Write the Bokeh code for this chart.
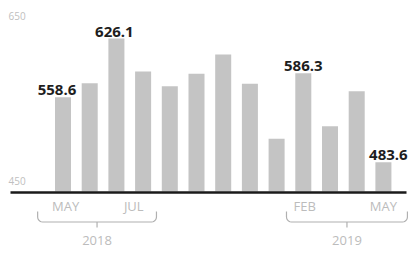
import numpy as np
from bokeh.plotting import figure
from bokeh.models import Range1d, ColumnDataSource
from bokeh.core.properties import value
from bokeh.embed import file_html
from bokeh.resources import INLINE

# ---- data ----
months = ["May18", "Jun18", "Jul18", "Aug18", "Sep18", "Oct18", "Nov18",
          "Dec18", "Jan19", "Feb19", "Mar19", "Apr19", "May19"]
values = [558.6, 574.8, 626.1, 588.2, 571.3, 585.6, 607.8,
          574.1, 510.7, 586.3, 525.2, 565.6, 483.6]
labelled = [0, 2, 9, 12]            # bars with value labels
tick_idx = [0.1, 2.65, 9.05, 12]     # month tick label positions
tick_labels = ["MAY", "JUL", "FEB", "MAY"]
y_ticks = [450, 650]
years = ["2018", "2019"]
year_spans = [(-0.95, 3.5), (8.37, 12.9)]

W, H = 409, 254
x0 = -2.341
x1 = x0 + W / 26.7
y0, y1 = 377.4, 670.0
kx = (x1 - x0) / W
ky = (y1 - y0) / H

p = figure(width=W, height=H, x_range=Range1d(x0, x1), y_range=Range1d(y0, y1),
           output_backend="svg", toolbar_location=None, min_border=0,
           outline_line_color=None, background_fill_color="white")
p.axis.visible = False
p.grid.visible = False

xs = list(range(len(months)))
src = ColumnDataSource(dict(x=xs, top=values))
p.vbar(x="x", top="top", bottom=450, width=0.6, source=src,
       fill_color="#c4c4c4", line_color=None)

# baseline
p.segment(x0=[x0 + 10 * kx], y0=[450 - 1 * ky], x1=[x1 - 3 * kx], y1=[450 - 1 * ky],
          line_color="#1a1a1a", line_width=2.5)

# value labels
p.text(x=[xs[i] for i in labelled], y=[values[i] for i in labelled],
       text=[f"{values[i]:.1f}" for i in labelled],
       text_align="center", text_baseline="bottom", y_offset=-2,
       x_offset=[-6, -2, 0, 5],
       text_font=value("Open Sans"), text_font_size="15px",
       text_font_style="bold", text_color="#1e1e1e")

# y tick labels
p.text(x=[x0 + 8 * kx] * 2, y=y_ticks, text=[str(v) for v in y_ticks],
       text_align="left", text_baseline="middle", y_offset=[-10, -2],
       text_font=value("Open Sans"), text_font_size="10px",
       text_color="#c0c0c0")

# month tick labels
p.text(x=tick_idx, y=[450] * len(tick_idx), text=tick_labels,
       text_align="center", text_baseline="middle", y_offset=15,
       text_font=value("Open Sans"), text_font_size="13px",
       text_color="#bcbcbc")

# brackets
r = 5  # px radius
top_px, bot_px, tick_px = 20, 30.5, 36
for (a, b), yr in zip(year_spans, years):
    wpx = (b - a) / kx
    mid = wpx / 2
    px_list = [(0, top_px)]
    for ang in np.linspace(np.pi, np.pi / 2, 6):
        px_list.append((r + r * np.cos(ang), bot_px - r + r * np.sin(ang)))
    px_list += [(mid, bot_px), (mid, tick_px), (mid, bot_px)]
    for ang in np.linspace(np.pi / 2, 0, 6):
        px_list.append((wpx - r + r * np.cos(ang), bot_px - r + r * np.sin(ang)))
    px_list.append((wpx, top_px))
    bx = [a + q[0] * kx for q in px_list]
    by = [450 - q[1] * ky for q in px_list]
    p.line(bx, by, line_color="#b0b0b0", line_width=1.2)
    p.text(x=[(a + b) / 2], y=[450], text=[yr], text_align="center",
           text_baseline="middle", y_offset=49,
           text_font=value("Open Sans"), text_font_size="13px",
           text_color="#bcbcbc")

open("out.html", "w").write(file_html(p, INLINE))
